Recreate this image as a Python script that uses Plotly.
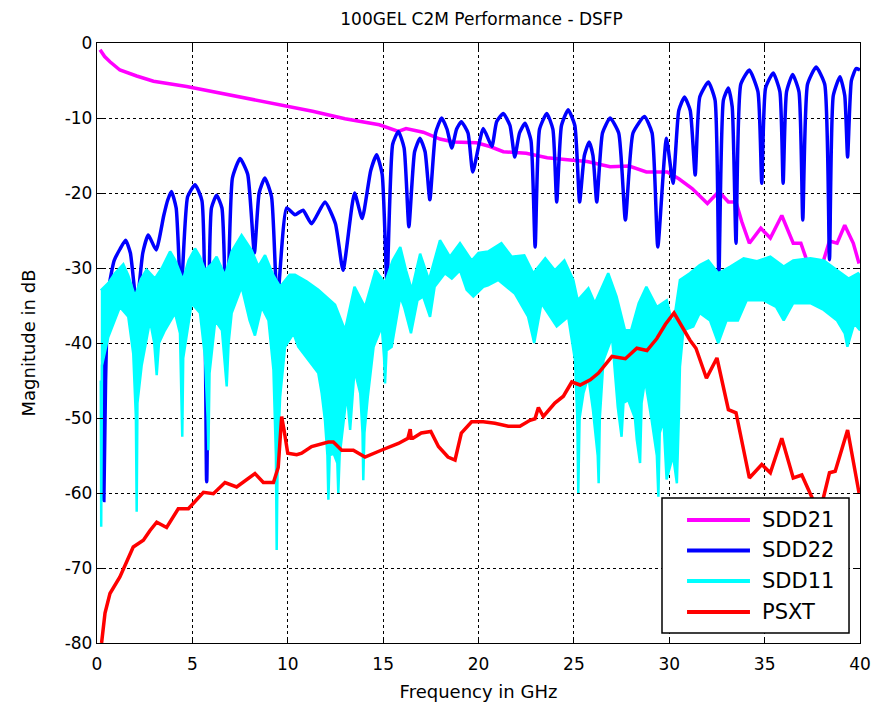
import plotly.graph_objects as go

# ---------------- data ----------------
sdd21_x = [0.16, 0.4, 0.68, 1.2, 2.08, 2.96, 4.7, 6.45, 8.2, 9.77, 11.3, 13.0, 14.8, 15.8, 16.2, 17.1,
           17.98, 18.7, 19.9, 20.6, 21.3, 22.5, 23.6, 24.8, 25.7, 26.9, 27.9, 28.8, 29.9, 30.5, 31.2,
           32.0, 32.6, 33.1, 33.5, 33.8, 34.2, 34.8, 35.3, 35.9, 36.5, 36.9, 37.2, 37.6, 37.9, 38.1,
           38.4, 38.8, 39.2, 39.65, 39.95]
sdd21_y = [-0.9, -1.8, -2.5, -3.6, -4.4, -5.1, -5.8, -6.7, -7.6, -8.3, -9.1, -10.1, -10.9, -11.8, -11.4,
           -11.9, -12.8, -13.2, -13.3, -13.8, -14.5, -14.7, -15.3, -15.6, -15.8, -16.5, -16.4, -17.2,
           -17.2, -18.1, -19.4, -21.4, -19.8, -21.2, -21.2, -23.8, -26.7, -24.7, -26.0, -23.0, -26.7,
           -26.7, -28.9, -30.5, -30.0, -28.9, -26.4, -26.7, -24.3, -26.7, -29.4]

sdd22_x = [0.3, 0.36, 0.45, 0.6, 0.9, 1.2, 1.5, 1.75, 2.08, 2.4, 2.69, 3.1, 3.5, 3.7, 3.9, 4.15, 4.4,
           4.75, 5.14, 5.5, 5.75, 6.0, 6.27, 6.55, 6.8, 7.1, 7.5, 7.9, 8.25, 8.5, 8.8, 9.15, 9.45,
           9.94, 10.38, 10.8, 11.25, 11.95, 12.5, 12.9, 13.5, 13.9, 14.35, 14.66, 14.95, 15.2, 15.5,
           15.8, 16.1, 16.35, 16.65, 16.93, 17.2, 17.45, 17.75, 18.07, 18.35, 18.6, 18.85, 19.1,
           19.45, 19.7, 20.25, 20.7, 20.95, 21.3, 21.65, 21.9, 22.15, 22.44, 22.75, 22.97, 23.2,
           23.58, 23.9, 24.1, 24.35, 24.7, 25.05, 25.3, 25.55, 25.8, 26.0, 26.2, 26.5, 26.9, 27.35,
           27.7, 28.1, 28.7, 29.1, 29.4, 29.85, 30.2, 30.5, 30.8, 31.1, 31.36, 31.6, 32.05, 32.4,
           32.6, 32.84, 33.1, 33.3, 33.5, 33.75, 34.2, 34.65, 34.85, 35.05, 35.45, 35.8, 35.97,
           36.15, 36.47, 36.8, 37.0, 37.25, 37.7, 38.15, 38.4, 38.6, 38.95, 39.2, 39.35, 39.55,
           39.8, 40.0]
sdd22_y = [-42, -61, -45, -33, -29, -27.5, -26.3, -28, -35, -28, -25.6, -27.6, -23, -21, -19.8, -22,
           -33.8, -20.5, -18.9, -21, -58.5, -22, -20.3, -22, -40, -18, -15.4, -17.5, -28, -20, -18,
           -20.5, -34.7, -22, -22.9, -22.3, -24.1, -21.2, -24.1, -30.3, -20, -23.4, -17, -14.9,
           -17.5, -32, -13.5, -11.8, -14, -24.5, -14.5, -12.7, -14.5, -20.9, -12, -10, -11.5, -14,
           -11.5, -10.5, -12, -17.2, -11.4, -13.8, -10.5, -9.4, -11, -15.2, -12, -10.7, -13, -27.2,
           -11.5, -9.4, -11.5, -21.2, -11, -8.9, -11, -21.2, -15, -13.2, -15, -21.2, -12, -10, -12,
           -23.6, -12, -9.8, -12, -27.2, -12.7, -18.7, -9, -7.2, -9, -17.6, -7.2, -5.2, -7.6, -31.2,
           -7.6, -6, -8.5, -26.7, -5.5, -3.6, -6.5, -18.7, -6, -4, -6.5, -18.7, -6.5, -4.2, -6.5,
           -23.6, -5.5, -3.2, -5.5, -28.9, -7, -4.5, -7, -15.2, -5, -3.4, -3.6]

# SDD11 is a dense ripple: its upper and lower envelopes (lower includes the deep narrow notches)
sdd11_up_x = [0.2, 0.4, 0.6, 0.94, 1.38, 1.64, 1.99, 2.3, 2.6, 3.04, 3.4, 3.83, 4.09, 4.5, 4.8, 5.14,
              5.4, 5.66, 6.0, 6.27, 6.71, 7.06, 7.58, 8.1, 8.46, 8.81, 9.0, 9.25, 9.6, 10.1, 10.38,
              11.0, 11.6, 12.48, 13.0, 13.5, 14.05, 14.6, 15.1, 15.5, 15.9, 16.2, 16.5, 16.94, 17.4,
              17.98, 18.5, 19.03, 19.64, 20.0, 20.5, 21.2, 21.74, 22.4, 22.87, 23.5, 24.0, 24.5,
              24.97, 25.2, 25.76, 26.1, 26.8, 27.24, 27.68, 28.0, 28.4, 28.8, 29.35, 29.87, 30.2,
              30.56, 31.08, 31.6, 32.05, 32.57, 33.2, 33.9, 34.6, 35.3, 36.0, 36.5, 37.4, 38.1, 38.8,
              39.4, 39.9, 40.0]
sdd11_up_y = [-33, -32.5, -32, -30.7, -29.5, -31, -33.8, -31.5, -30.2, -31.4, -30, -27.8, -28.9, -31.6,
              -29, -27.4, -28.5, -30.3, -29.5, -28.5, -31, -27.8, -25.6, -27.6, -29.8, -28.3, -29.5,
              -31, -32.5, -30.9, -30.9, -31.8, -32.9, -34.9, -38.3, -32.5, -35.2, -30.3, -32, -29,
              -27.2, -30.3, -32.9, -28.1, -31.6, -26.3, -28.5, -26.7, -29, -28, -27.8, -26.7, -28.5,
              -28.3, -30.7, -28.7, -30.3, -29, -31.6, -34.3, -32.7, -34.7, -30.7, -33.8, -38.3, -38.3,
              -34.7, -32.5, -35.2, -34.3, -37.8, -31.6, -30.7, -29.6, -29, -30.7, -29.8, -28.7, -29.1,
              -28.5, -29.8, -29, -28.7, -29, -30.3, -31.4, -30.7, -31]
sdd11_lo_x = [0.2, 0.22, 0.26, 0.59, 0.94, 1.2, 1.64, 1.9, 2.04, 2.08, 2.12, 2.34, 2.78, 3.0, 3.13,
              3.25, 3.56, 4.09, 4.35, 4.42, 4.47, 4.52, 4.96, 5.4, 5.66, 5.8, 5.84, 5.9, 6.2, 6.55,
              6.8, 6.9, 7.06, 7.58, 8.0, 8.28, 8.63, 8.99, 9.25, 9.38, 9.42, 9.47, 9.6, 9.86, 10.3,
              10.55, 11.08, 11.6, 11.78, 11.95, 12.08, 12.13, 12.2, 12.4, 12.6, 12.65, 12.72, 12.83,
              13.1, 13.27, 13.5, 13.8, 13.92, 13.96, 14.02, 14.2, 14.5, 14.93, 15.05, 15.1, 15.18,
              15.45, 15.9, 16.1, 16.46, 16.8, 17.1, 17.46, 17.7, 18.24, 18.6, 19.03, 19.38, 19.73,
              20.25, 20.5, 21.04, 21.9, 22.6, 22.92, 23.3, 24.1, 24.7, 25.06, 25.18, 25.23, 25.3,
              25.5, 25.76, 26.0, 26.25, 26.3, 26.36, 26.55, 27.0, 27.3, 27.5, 27.6, 27.85, 28.2,
              28.3, 28.47, 28.55, 28.73, 29.08, 29.35, 29.43, 29.5, 29.7, 29.86, 30.03, 30.2, 30.4,
              30.5, 30.56, 30.74, 31.26, 31.6, 32.14, 32.57, 33.0, 33.6, 34.06, 34.93, 35.6, 36.0,
              36.5, 37.4, 38.1, 38.8, 39.2, 39.34, 39.7, 40.0]
sdd11_lo_y = [-45, -64.5, -43, -39.2, -37, -35.2, -36.5, -41.4, -50, -62.5, -48, -43, -37, -40, -44.3,
              -40, -38.3, -36, -38.7, -45, -52.5, -42, -34.7, -36, -41.8, -50, -54.3, -44, -37, -38.3,
              -45.8, -40, -36, -32.5, -37, -39, -35.2, -37, -43.6, -55, -67.6, -55, -47.2, -40.5,
              -38.7, -40.5, -42.3, -44, -46.7, -50.3, -55, -60.9, -55, -54.7, -56, -60, -55, -52.5,
              -46.7, -51.6, -43.6, -46.7, -52, -58.3, -52, -47.1, -40.5, -37.8, -42, -45.4, -41,
              -40.5, -33.8, -35.2, -38.7, -34.3, -33.8, -36.5, -32.5, -30.7, -31.4, -30.3, -32.9,
              -33.8, -32.5, -32.3, -31.6, -33.4, -36.5, -40, -34.7, -37.8, -36.5, -42.3, -50, -60,
              -50, -46.7, -44.5, -48.9, -55, -58.7, -50, -42.3, -39.2, -48.5, -52.5, -48, -47.6, -50,
              -52.9, -56, -48, -44.9, -50.3, -55, -60.5, -52, -50.3, -58.2, -56.5, -55, -58.7, -50,
              -43.2, -38.3, -37.8, -36, -37, -40, -37, -37, -34.3, -34.3, -35.2, -37, -34.7, -34.7,
              -35.6, -37, -38.7, -40.5, -37.4, -38.3]

psxt_x = [0.24, 0.42, 0.68, 1.2, 1.9, 2.43, 2.78, 3.13, 3.65, 4.26, 4.79, 5.58, 6.1, 6.71, 7.32, 8.28,
          8.72, 9.25, 9.5, 9.68, 9.8, 10.0, 10.47, 10.73, 11.25, 12.13, 12.39, 12.83, 13.44, 14.05,
          14.9, 15.8, 16.3, 16.42, 16.47, 16.56, 17.0, 17.5, 17.9, 18.4, 18.77, 19.1, 19.64, 20.25,
          20.86, 21.56, 22.17, 22.7, 22.96, 23.14, 23.4, 24.0, 24.45, 24.89, 25.33, 25.86, 26.29,
          27.0, 27.7, 28.3, 28.83, 29.35, 29.8, 30.25, 31.08, 31.4, 31.95, 32.5, 33.1, 33.5, 34.2,
          34.85, 35.3, 35.9, 36.5, 36.95, 37.5, 37.7, 37.95, 38.4, 38.7, 39.35, 39.95]
psxt_y = [-80, -76, -73.4, -71.2, -67.2, -66.3, -65, -63.9, -64.6, -62.1, -62.1, -59.9, -60.1, -58.6,
          -59.2, -57.4, -58.6, -58.6, -56.6, -49.8, -51.5, -54.7, -54.9, -54.7, -53.8, -53.2, -53.2,
          -54.3, -54.3, -55.2, -54.3, -53.4, -52.7, -51.5, -52.7, -52.7, -52, -51.8, -53.8, -55.2,
          -55.6, -52, -50.5, -50.5, -50.7, -51.1, -51.1, -50.3, -50.1, -48.6, -49.8, -48, -47.1,
          -45.2, -45.6, -44.9, -44, -41.8, -42.1, -40.7, -41, -39.4, -37.5, -36, -39.6, -40.7, -44.7,
          -42, -48.9, -49.3, -58, -56.2, -57.3, -52.7, -58, -57.6, -60.7, -62, -62, -57.3, -57.1,
          -51.6, -60]

series_names = ["SDD21", "SDD22", "SDD11", "PSXT"]
series_colors = ["#FF00FF", "#0000FF", "#00FFFF", "#FF0000"]

x_ticks = [0, 5, 10, 15, 20, 25, 30, 35, 40]
y_ticks = [-80, -70, -60, -50, -40, -30, -20, -10, 0]
y_ticktext = ["-80", "-70", "-60", "-50", "-40", "-30", "-20", "-10", "0"]

# ---------------- figure ----------------
FONT = "DejaVu Sans"
W = 3.5

fig = go.Figure()
fig.add_trace(go.Scatter(x=sdd21_x, y=sdd21_y, mode="lines", name=series_names[0],
                         line=dict(color=series_colors[0], width=W)))
fig.add_trace(go.Scatter(x=sdd22_x, y=sdd22_y, mode="lines", name=series_names[1],
                         line=dict(color=series_colors[1], width=W, shape="spline", smoothing=0.5)))
fig.add_trace(go.Scatter(x=sdd11_up_x + sdd11_lo_x[::-1], y=sdd11_up_y + sdd11_lo_y[::-1],
                         mode="lines", fill="toself", fillcolor=series_colors[2], name=series_names[2],
                         line=dict(color=series_colors[2], width=2.5), hoverinfo="skip"))
fig.add_trace(go.Scatter(x=psxt_x, y=psxt_y, mode="lines", name=series_names[3],
                         line=dict(color=series_colors[3], width=W)))

# MATLAB-style legend box (long line samples), drawn in paper coordinates
box = dict(x0=0.7405, x1=0.9856, y0=0.0167, y1=0.2417)
shapes = [dict(type="rect", xref="paper", yref="paper", layer="above",
               fillcolor="white", line=dict(color="black", width=1.5), **box)]
annotations = []
row_y = [0.205, 0.1542, 0.1033, 0.0517]
for name, color, ry in zip(series_names, series_colors, row_y):
    shapes.append(dict(type="line", xref="paper", yref="paper", layer="above",
                       x0=0.7733, x1=0.8558, y0=ry, y1=ry, line=dict(color=color, width=4)))
    annotations.append(dict(text=name, xref="paper", yref="paper", x=0.8689, y=ry,
                            xanchor="left", yanchor="middle", showarrow=False,
                            font=dict(family=FONT, size=21, color="black")))

axis_common = dict(showline=True, linecolor="black", linewidth=1.3, mirror="ticks",
                   ticks="inside", ticklen=6, tickcolor="black", showgrid=True,
                   gridcolor="black", griddash="dot", gridwidth=1, zeroline=False,
                   tickfont=dict(family=FONT, size=17, color="black"))

fig.update_layout(
    width=877, height=703,
    margin=dict(l=89, r=25, t=35, b=68),
    paper_bgcolor="white", plot_bgcolor="white",
    showlegend=False,
    shapes=shapes, annotations=annotations,
    title=dict(text="100GEL C2M Performance - DSFP", x=0.54, xanchor="center", y=0.984,
               yanchor="middle", font=dict(family=FONT, size=17, color="black")),
    xaxis=dict(range=[0, 40], tickvals=x_ticks, ticklabelstandoff=5,
               title=dict(text="Frequency in GHz", font=dict(family=FONT, size=18, color="black"),
                          standoff=12),
               **axis_common),
    yaxis=dict(range=[-80, 0], tickvals=y_ticks, ticktext=y_ticktext,
               title=dict(text="Magnitude in dB", font=dict(family=FONT, size=18, color="black"),
                          standoff=24),
               **axis_common),
)

fig.write_html("out.html")
